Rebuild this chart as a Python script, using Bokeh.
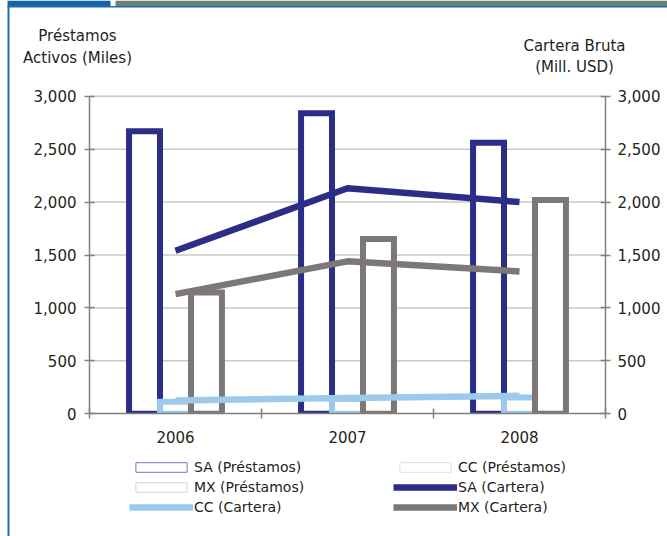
import numpy as np
from bokeh.plotting import figure
from bokeh.models import (Range1d, LinearAxis, FixedTicker, NumeralTickFormatter,
                          Legend, LegendItem, Label, BoxAnnotation)
from bokeh.embed import file_html
from bokeh.resources import INLINE

# Loans (thousands) and gross portfolio (million USD) per year
years = ["2006", "2007", "2008"]
sa_prestamos = [2670, 2840, 2560]
cc_prestamos = [115, 140, 155]
mx_prestamos = [1145, 1650, 2020]
sa_cartera = [1540, 2130, 2000]
cc_cartera = [125, 150, 170]
mx_cartera = [1130, 1440, 1345]
y_ticks = [0, 500, 1000, 1500, 2000, 2500, 3000]

FONT = "DejaVu Sans"
TEXT = "#231f20"
AXIS = "#808080"
NAVY = "#2b2d86"
GREY = "#7d7776"
SKY = "#9dcaec"

# page size and where the chart body sits on it (pixels)
W, H = 667, 536
LEFT_PX, RIGHT_PX = 89, 605
BASE_PX, TOP_PX = 413.3, 95.7
Y_MAX = 3000

n = len(years)
px_per_x = (RIGHT_PX - LEFT_PX) / n
px_per_y = (BASE_PX - TOP_PX) / Y_MAX
x_rng = (-LEFT_PX / px_per_x, (W - LEFT_PX) / px_per_x)
y_rng = (-(H - BASE_PX) / px_per_y, BASE_PX / px_per_y)

xc = np.arange(n) + 0.5
bw = 0.18

# the frame fills the whole page; axes sit at fixed positions inside it
p = figure(width=W, height=H, output_backend="svg", toolbar_location=None,
           x_range=Range1d(*x_rng), y_range=Range1d(*y_rng),
           x_axis_location=None, y_axis_location=None, min_border=0)
p.outline_line_color = None
p.background_fill_color = "white"
p.border_fill_color = "white"
p.xgrid.visible = False
p.ygrid.visible = False
p.extra_y_ranges = {"cartera": Range1d(*y_rng)}

# horizontal grid lines between the two value axes
p.segment(x0=0, x1=n, y0=y_ticks[1:], y1=y_ticks[1:],
          line_color="#c8c8c8", line_width=1.5)

# bars: loans
bar_style = dict(width=bw, fill_color="white", line_width=6, line_join="miter")
p.vbar(x=xc - bw, top=sa_prestamos, line_color=NAVY, **bar_style)
p.vbar(x=xc, top=cc_prestamos, line_color=SKY, **bar_style)
p.vbar(x=xc + bw, top=mx_prestamos, line_color=GREY, **bar_style)

# keep the bar outlines from running below the baseline
p.add_layout(BoxAnnotation(left=0, right=n, top=0, bottom=-100,
                           fill_color="white", fill_alpha=1, line_color=None,
                           level="glyph"))

# lines: portfolio
line_style = dict(line_width=6.5, line_join="round", y_range_name="cartera")
l_sa = p.line(xc, sa_cartera, line_color=NAVY, **line_style)
l_cc = p.line(xc, cc_cartera, line_color=SKY, **line_style)
l_mx = p.line(xc, mx_cartera, line_color=GREY, **line_style)

# thin swatches for the bar entries of the legend (nothing drawn in the chart)
swatch = dict(x=[np.nan], top=[np.nan], width=bw, fill_color="white", line_width=1)
sw_sa = p.vbar(line_color="#7c74c0", **swatch)
sw_cc = p.vbar(line_color="#cfe3f5", **swatch)
sw_mx = p.vbar(line_color="#d6d6d6", **swatch)

# axes
xa = LinearAxis(fixed_location=0, bounds=(0, n))
xa.ticker = FixedTicker(ticks=list(xc), minor_ticks=list(range(n + 1)))
xa.major_label_overrides = {float(x): y for x, y in zip(xc, years)}
xa.major_tick_line_color = None
xa.major_tick_in = 0
xa.major_tick_out = 5
xa.minor_tick_line_color = AXIS
xa.minor_tick_line_width = 1.5
xa.minor_tick_in = 5
xa.minor_tick_out = 5
xa.major_label_standoff = 12
p.add_layout(xa, "below")

ya = LinearAxis(fixed_location=0, bounds=(0, Y_MAX))
ya_r = LinearAxis(fixed_location=n, bounds=(0, Y_MAX), y_range_name="cartera")
p.add_layout(ya, "left")
p.add_layout(ya_r, "right")
for ax, standoff in ((ya, 8), (ya_r, 7)):
    ax.ticker = FixedTicker(ticks=y_ticks)
    ax.formatter = NumeralTickFormatter(format="0,0")
    ax.major_tick_in = 5
    ax.major_tick_out = 5
    ax.major_tick_line_color = AXIS
    ax.major_tick_line_width = 1.5
    ax.minor_tick_line_color = None
    ax.major_label_standoff = standoff

for ax in (xa, ya, ya_r):
    ax.axis_line_color = AXIS
    ax.axis_line_width = 1.5
    ax.major_label_text_font = FONT
    ax.major_label_text_font_size = "15px"
    ax.major_label_text_color = TEXT

# axis titles (screen units, measured from the page's bottom-left)
for txt, x, y in (("Préstamos", 77, H - 35), ("Activos (Miles)", 77, H - 57),
                  ("Cartera Bruta", 574, H - 45), ("(Mill. USD)", 574, H - 66)):
    p.add_layout(Label(x=x, y=y, x_units="screen", y_units="screen", text=txt,
                       text_align="center", text_baseline="middle",
                       text_font=FONT, text_font_size="15px", text_color=TEXT))

# legend (location is its bottom-left corner)
legend = Legend(items=[
    LegendItem(label="SA (Préstamos)", renderers=[sw_sa]),
    LegendItem(label="CC (Préstamos)", renderers=[sw_cc]),
    LegendItem(label="MX (Préstamos)", renderers=[sw_mx]),
    LegendItem(label="SA (Cartera)", renderers=[l_sa]),
    LegendItem(label="CC (Cartera)", renderers=[l_cc]),
    LegendItem(label="MX (Cartera)", renderers=[l_mx]),
], location=(129, H - 517), orientation="horizontal", ncols=2,
    glyph_width=64, glyph_height=12, label_standoff=1, label_width=199,
    label_height=20, spacing=0, padding=0, margin=0,
    border_line_color=None, background_fill_alpha=0,
    label_text_font=FONT, label_text_font_size="14px", label_text_color=TEXT)
p.add_layout(legend)

# page header strip and frame lines
for l, r, t, b, c in ((7, 110, H, H - 5.5, "#1565a8"),
                      (115, W, H, H - 5.5, "#6c8176"),
                      (7, W, H - 5.5, H - 7, "#1a6db4"),
                      (7, 9, H - 5.5, 0, "#1a6db4")):
    p.add_layout(BoxAnnotation(left=l, right=r, top=t, bottom=b,
                               left_units="screen", right_units="screen",
                               top_units="screen", bottom_units="screen",
                               fill_color=c, fill_alpha=1, line_color=None))

open("out.html", "w").write(file_html(p, INLINE))
